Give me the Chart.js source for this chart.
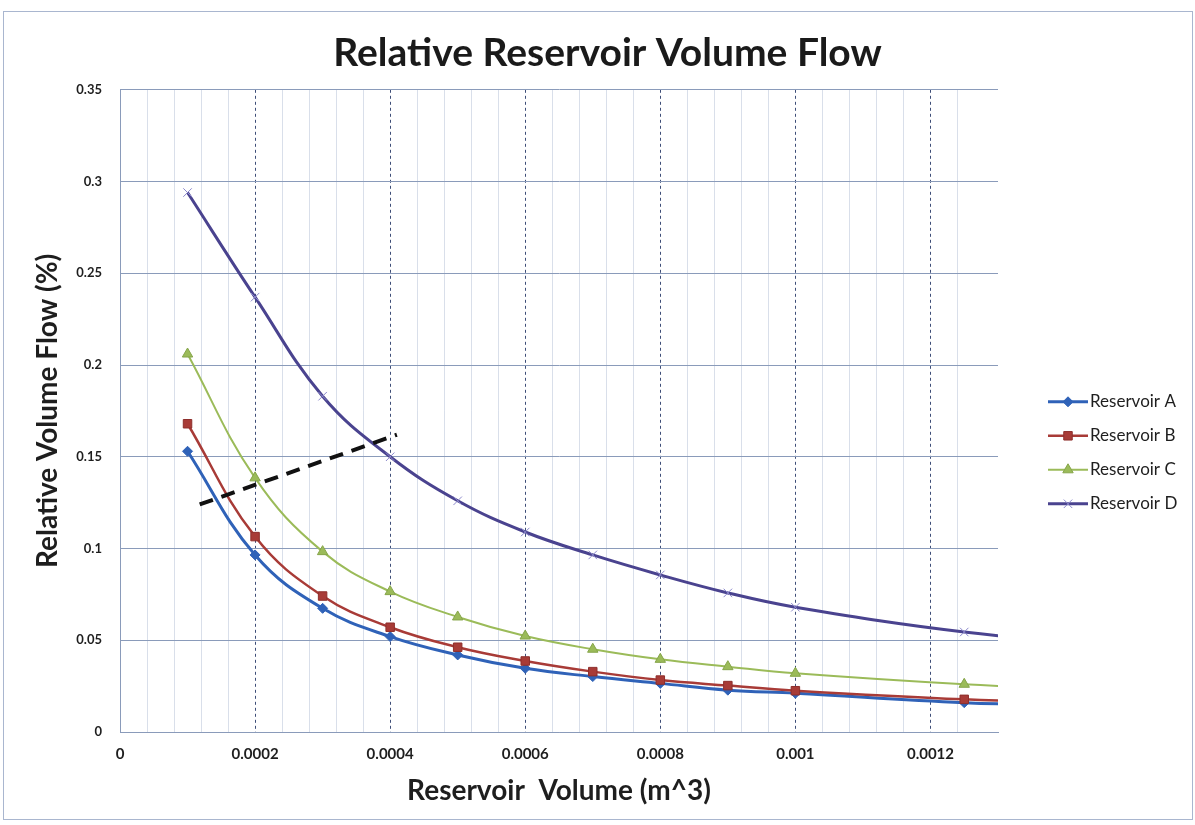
<!DOCTYPE html>
<html>
<head>
<meta charset="utf-8">
<title>Relative Reservoir Volume Flow</title>
<script src="https://cdn.jsdelivr.net/npm/chart.js@4.4.1/dist/chart.umd.min.js"></script>
<style>
  html, body { margin: 0; padding: 0; background: #fff; }
  #wrap { position: relative; width: 1195px; height: 825px; }
</style>
</head>
<body>
<div id="wrap"><canvas id="flowChart" width="1195" height="825"></canvas></div>
<script>
// Reservoir volumes (m^3). The 0.0015 entry sits past the axis end so the curves run off the edge.
const volumes = [0.0001, 0.0002, 0.0003, 0.0004, 0.0005, 0.0006, 0.0007, 0.0008, 0.0009, 0.001, 0.00125, 0.0015];

const seriesNames = ['Reservoir A', 'Reservoir B', 'Reservoir C', 'Reservoir D'];

const flowA = [0.153, 0.0965, 0.0674, 0.052, 0.042, 0.0347, 0.0302, 0.0265, 0.0228, 0.0211, 0.016, 0.0135];
const flowB = [0.168, 0.1065, 0.0741, 0.0571, 0.0462, 0.0387, 0.0329, 0.0283, 0.0253, 0.0225, 0.0178, 0.015];
const flowC = [0.206, 0.1385, 0.0983, 0.0765, 0.0627, 0.0523, 0.0451, 0.0396, 0.0356, 0.032, 0.026, 0.0218];
const flowD = [0.294, 0.237, 0.183, 0.150, 0.126, 0.109, 0.0965, 0.0856, 0.0758, 0.068, 0.0545, 0.046];

// hand-drawn dashed guide line (start / end)
const guideX = [0.000118, 0.00041];
const guideY = [0.124, 0.162];

// axis ranges and tick spacing
const xMax = 0.0013;
const xMinorStep = 0.00004;
const xMajorStep = 0.0002;
const yMax = 0.35;
const yStep = 0.05;

const colors = ['#2F62B8', '#A83B37', '#9BBB59', '#4A438F'];
const markers = [
  { pointStyle: 'rectRot', radius: 5, fill: '#2F62B8', border: '#2F62B8', borderWidth: 1, lineWidth: 3 },
  { pointStyle: 'rect', radius: 6, fill: '#A83B37', border: '#8E2F2C', borderWidth: 1, lineWidth: 2.5 },
  { pointStyle: 'triangle', radius: 6, fill: '#9BBB59', border: '#86A54A', borderWidth: 1, lineWidth: 2 },
  { pointStyle: 'crossRot', radius: 6, fill: '#8C89CC', border: '#8C89CC', borderWidth: 1, lineWidth: 3 }
];

const fontFamily = 'Lato, "Open Sans", sans-serif';

function isMajor(v) {
  if (v === undefined || v === null) return false;
  const r = v / xMajorStep;
  return Math.abs(r - Math.round(r)) < 1e-6;
}

function toPoints(ys) {
  return volumes.map((x, i) => ({ x: x, y: ys[i] }));
}

const seriesData = [flowA, flowB, flowC, flowD];

const datasets = seriesData.map((ys, i) => ({
  label: seriesNames[i],
  data: toPoints(ys),
  borderColor: colors[i],
  borderWidth: markers[i].lineWidth,
  backgroundColor: markers[i].fill,
  pointStyle: markers[i].pointStyle,
  pointBackgroundColor: markers[i].fill,
  pointBorderColor: markers[i].border,
  pointBorderWidth: markers[i].borderWidth,
  pointRadius: ctx => (ctx.raw && ctx.raw.x > xMax ? 0 : markers[i].radius),
  tension: 0.4,
  order: 4 - i
}));

datasets.push({
  label: 'guide',
  data: guideX.map((x, i) => ({ x: x, y: guideY[i] })),
  borderColor: '#111111',
  borderWidth: 4,
  borderDash: [14, 9],
  pointRadius: 0,
  tension: 0,
  order: 0
});

// outer frame + legend with line-and-marker samples
const chartFrame = {
  id: 'chartFrame',
  beforeDraw(chart) {
    const ctx = chart.ctx;
    ctx.save();
    ctx.fillStyle = '#ffffff';
    ctx.fillRect(0, 0, chart.width, chart.height);
    ctx.strokeStyle = '#A9B6CF';
    ctx.lineWidth = 1;
    ctx.strokeRect(3.5, 11.5, chart.width - 6, chart.height - 17);
    ctx.restore();
  }
};

const sideLegend = {
  id: 'sideLegend',
  afterDraw(chart) {
    const { ctx, chartArea } = chart;
    const x0 = chartArea.right + 50;
    ctx.save();
    seriesNames.forEach((name, i) => {
      const y = chartArea.top + 312 + i * 34;
      const m = markers[i];
      ctx.setLineDash([]);
      ctx.strokeStyle = colors[i];
      ctx.lineWidth = m.lineWidth;
      ctx.beginPath();
      ctx.moveTo(x0, y);
      ctx.lineTo(x0 + 40, y);
      ctx.stroke();
      ctx.fillStyle = m.fill;
      ctx.strokeStyle = m.border;
      ctx.lineWidth = m.borderWidth;
      Chart.helpers.drawPoint(ctx, { pointStyle: m.pointStyle, radius: m.radius, borderWidth: m.borderWidth, rotation: 0 }, x0 + 20, y);
      ctx.fillStyle = '#1e1e1e';
      ctx.font = '17px ' + fontFamily;
      ctx.textAlign = 'left';
      ctx.textBaseline = 'middle';
      ctx.fillText(name, x0 + 42, y);
    });
    ctx.restore();
  }
};

new Chart(document.getElementById('flowChart'), {
  type: 'line',
  data: { datasets: datasets },
  options: {
    responsive: false,
    animation: false,
    devicePixelRatio: 1,
    layout: { padding: { top: 0, left: 20, right: 0, bottom: 0 } },
    plugins: {
      legend: { display: false },
      tooltip: { enabled: false },
      title: {
        display: true,
        text: 'Relative Reservoir Volume Flow',
        color: '#1a1a1a',
        font: { family: fontFamily, weight: 'bold', size: 39 },
        padding: { top: 30, bottom: 13 }
      }
    },
    scales: {
      x: {
        type: 'linear',
        min: 0,
        max: xMax,
        afterFit: scale => { scale.height = 93; },
        ticks: {
          stepSize: xMinorStep,
          autoSkip: false,
          maxRotation: 0,
          padding: 13,
          color: '#1e1e1e',
          font: { family: fontFamily, weight: 'bold', size: 15 },
          callback: v => (isMajor(v) ? String(+v.toFixed(4)) : '')
        },
        grid: {
          drawTicks: false,
          color: ctx => {
            const v = ctx.tick ? ctx.tick.value : undefined;
            if (v === 0) return 'rgba(0,0,0,0)';
            if (isMajor(v)) return '#3E4E78';
            const r = v / xMinorStep;
            return Math.abs(r - Math.round(r)) < 1e-6 ? '#D9DFEA' : 'rgba(0,0,0,0)';
          },
          lineWidth: 1
        },
        border: {
          color: '#8A9BBA',
          width: 1,
          dash: ctx => (ctx.tick && isMajor(ctx.tick.value) && ctx.tick.value !== 0 ? [3, 3] : [])
        },
        title: {
          display: true,
          text: 'Reservoir  Volume (m^3)',
          color: '#1e1e1e',
          font: { family: fontFamily, weight: 'bold', size: 28 },
          padding: { top: 0, bottom: 17 }
        }
      },
      y: {
        min: 0,
        max: yMax,
        afterFit: scale => { scale.width = 100; },
        ticks: {
          stepSize: yStep,
          padding: 18,
          color: '#1e1e1e',
          font: { family: fontFamily, weight: 'bold', size: 13 },
          callback: v => String(+v.toFixed(2))
        },
        grid: {
          drawTicks: false,
          color: '#8A9BBA',
          lineWidth: 1
        },
        border: { color: '#8A9BBA', width: 1 },
        title: {
          display: true,
          text: 'Relative Volume Flow (%)',
          color: '#1e1e1e',
          font: { family: fontFamily, weight: 'bold', size: 28 },
          padding: { top: 11, bottom: 0 }
        }
      },
      // empty right-hand band that holds the legend
      legendBand: {
        type: 'linear',
        position: 'right',
        afterFit: scale => { scale.width = 197; },
        ticks: { display: false },
        grid: { display: false, drawTicks: false },
        border: { display: false }
      }
    }
  },
  plugins: [chartFrame, sideLegend]
});
</script>
</body>
</html>
